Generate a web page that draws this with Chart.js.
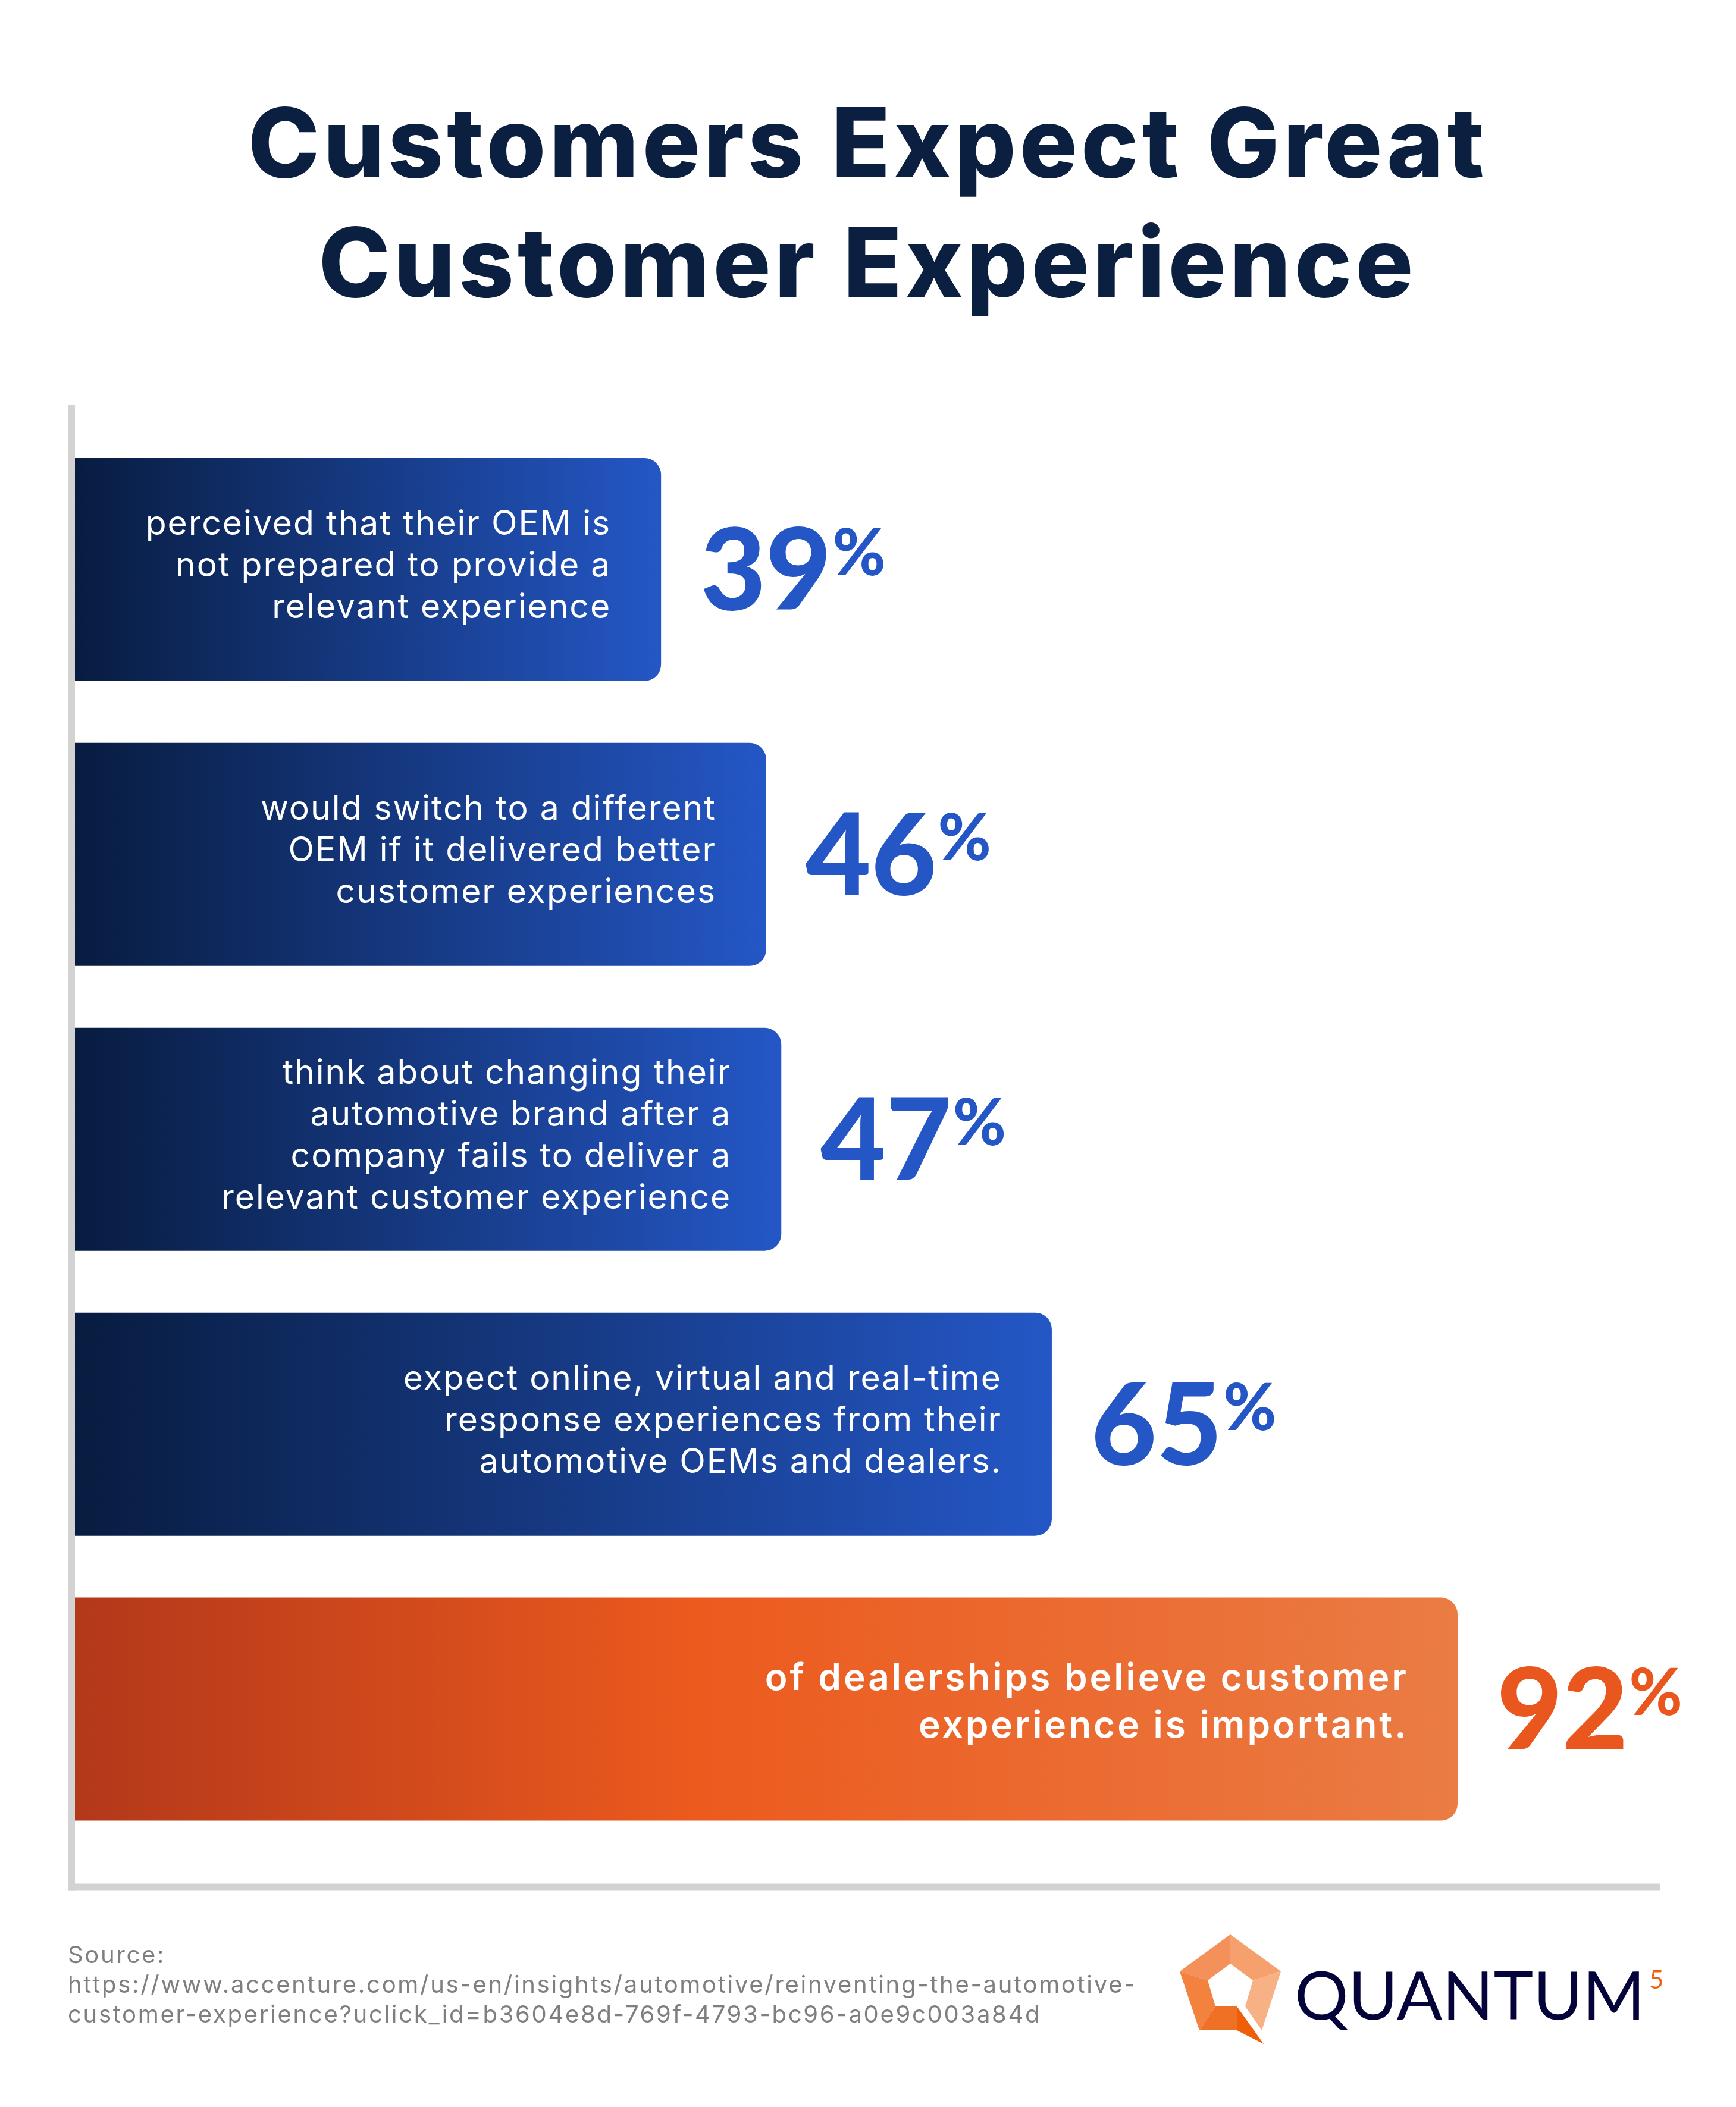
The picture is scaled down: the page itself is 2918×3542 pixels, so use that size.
<!DOCTYPE html>
<html>
<head>
<meta charset="utf-8">
<title>Customers Expect Great Customer Experience</title>
<script src="https://cdn.jsdelivr.net/npm/chart.js@4.4.1/dist/chart.umd.min.js"></script>
<style>
  html, body { margin: 0; padding: 0; background: #fff; }
  #wrap { width: 2918px; height: 3542px; }
</style>
</head>
<body>
<div id="wrap"><canvas id="chart"></canvas></div>
<script>
const titleLines = ['Customers Expect Great', 'Customer Experience'];
const statements = [
  ['perceived that their OEM is', 'not prepared to provide a', 'relevant experience'],
  ['would switch to a different', 'OEM if it delivered better', 'customer experiences'],
  ['think about changing their', 'automotive brand after a', 'company fails to deliver a', 'relevant customer experience'],
  ['expect online, virtual and real-time', 'response experiences from their', 'automotive OEMs and dealers.'],
  ['of dealerships believe customer', 'experience is important.']
];
const percentages = [39, 46, 47, 65, 92];
const sourceLines = [
  'Source:',
  'https://www.accenture.com/us-en/insights/automotive/reinventing-the-automotive-',
  'customer-experience?uclick_id=b3604e8d-769f-4793-bc96-a0e9c003a84d'
];
const xMax = 105.5;

// styling
const highlightIndex = 4; // the dealership bar is orange
const navy = '#0b1f40';
const blue = '#2457c5';
const orange = '#e9561e';
const axisGrey = '#d3d3d3';

function barFill(c) {
  const chart = c.chart;
  if (!chart.chartArea || c.type !== 'data') return blue;
  const x = chart.scales.x;
  const x0 = x.getPixelForValue(0);
  const x1 = x.getPixelForValue(c.raw);
  const g = chart.ctx.createLinearGradient(x0, 0, x1, 0);
  if (c.dataIndex === highlightIndex) {
    g.addColorStop(0, '#b3381a');
    g.addColorStop(0.45, '#ec5a1e');
    g.addColorStop(1, '#ea7c44');
  } else {
    g.addColorStop(0, '#081c40');
    g.addColorStop(1, '#2457c6');
  }
  return g;
}

// wider tracking for the title (Chart.js title has no letter spacing option)
const titleTracking = {
  id: 'titleTracking',
  beforeDraw(chart) { chart.ctx.letterSpacing = '6px'; },
  beforeDatasetsDraw(chart) { chart.ctx.letterSpacing = '0px'; }
};

// grey L-shaped axis frame, a bit longer than the bar area
const frame = {
  id: 'frame',
  beforeDatasetsDraw(chart) {
    const { ctx, chartArea: a } = chart;
    ctx.save();
    ctx.fillStyle = axisGrey;
    ctx.fillRect(a.left - 12, a.top - 38, 12, a.bottom - a.top + 38 + 66);
    ctx.fillRect(a.left - 12, a.bottom + 54, a.right - a.left + 12, 12);
    ctx.restore();
  }
};

// statement text inside the bars and the big percentage after them
const barText = {
  id: 'barText',
  afterDatasetsDraw(chart) {
    const ctx = chart.ctx;
    const meta = chart.getDatasetMeta(0);
    ctx.save();
    meta.data.forEach((bar, i) => {
      const hl = i === highlightIndex;
      const lines = chart.data.labels[i];
      const lh = hl ? 80 : 70;
      ctx.fillStyle = '#fff';
      ctx.textAlign = 'right';
      ctx.textBaseline = 'alphabetic';
      ctx.font = hl ? '600 62px Inter' : '400 57px Inter';
      ctx.letterSpacing = hl ? '4px' : '2px';
      const first = bar.y + (hl ? 8 : 12) - (lines.length - 1) * lh / 2;
      lines.forEach((t, k) => ctx.fillText(t, bar.x - 86 + (hl ? 4 : 2), first + k * lh));

      // percentage
      ctx.letterSpacing = '0px';
      const num = String(chart.data.datasets[0].data[i]);
      const capH = 136;
      const base = bar.y + capH / 2;
      const nx = bar.x + 66;
      ctx.textAlign = 'left';
      ctx.fillStyle = hl ? orange : blue;
      ctx.font = '900 190px Lato';
      ctx.fillText(num, nx, base);
      const w = ctx.measureText(num).width;
      ctx.font = '900 108px Lato';
      ctx.fillText('%', nx + w + 2, base - capH + 78);
    });
    ctx.restore();
  }
};

// source note and logo at the foot
const footer = {
  id: 'footer',
  afterDraw(chart) {
    const ctx = chart.ctx;
    ctx.save();
    ctx.fillStyle = '#7f7f7f';
    ctx.font = '400 40px Inter';
    ctx.letterSpacing = '2.7px';
    ctx.textAlign = 'left';
    ctx.textBaseline = 'alphabetic';
    sourceLines.forEach((t, k) => ctx.fillText(t, 114, 3300 + k * 50));
    ctx.letterSpacing = '0px';

    // pentagon mark
    const facets = [
      ['#f4915a', [[2068, 3252], [1983, 3314], [2030, 3329], [2068, 3301]]],
      ['#f6a06e', [[2068, 3252], [2068, 3301], [2106, 3329], [2153, 3314]]],
      ['#f4823f', [[1983, 3314], [2016, 3413], [2043, 3373], [2030, 3329]]],
      ['#f8b085', [[2153, 3314], [2106, 3329], [2093, 3373], [2121, 3413]]],
      ['#f07125', [[2043, 3373], [2079, 3373], [2079, 3413], [2016, 3413]]],
      ['#ef5f0a', [[2079, 3373], [2124, 3436], [2079, 3413]]]
    ];
    facets.forEach(([col, pts]) => {
      ctx.beginPath();
      pts.forEach(([px, py], k) => (k ? ctx.lineTo(px, py) : ctx.moveTo(px, py)));
      ctx.closePath();
      ctx.fillStyle = col;
      ctx.fill();
    });
    ctx.fillStyle = '#04043a';
    ctx.font = '400 113px Lato';
    ctx.fillText('QUANTUM', 2176, 3395);
    ctx.fillStyle = '#f0600a';
    ctx.font = '400 42px Lato';
    ctx.fillText('5', 2772, 3343);
    ctx.restore();
  }
};

new Chart(document.getElementById('chart'), {
  type: 'bar',
  data: {
    labels: statements,
    datasets: [{
      data: percentages,
      backgroundColor: barFill,
      borderWidth: 0,
      borderRadius: 28,
      borderSkipped: 'start',
      barPercentage: 0.783,
      categoryPercentage: 1
    }]
  },
  options: {
    indexAxis: 'y',
    responsive: true,
    maintainAspectRatio: false,
    animation: false,
    layout: { padding: { left: 126, right: 127, top: 0, bottom: 429.5 } },
    scales: {
      x: { display: false, min: 0, max: xMax },
      y: { display: false }
    },
    plugins: {
      legend: { display: false },
      tooltip: { enabled: false },
      title: {
        display: true,
        text: titleLines,
        color: navy,
        font: { family: 'Inter', size: 162, weight: '800', lineHeight: 1.2438 },
        padding: { top: 148.5, bottom: 166.5 }
      }
    }
  },
  plugins: [titleTracking, frame, barText, footer]
});
</script>
</body>
</html>
